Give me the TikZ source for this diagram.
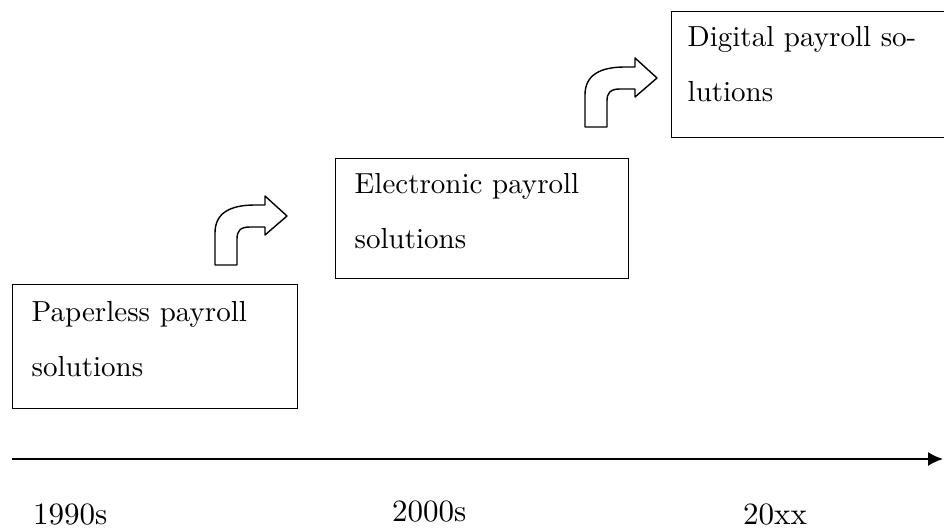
\documentclass[tikz,border=0pt]{standalone}
\usepackage{fontspec}
\setmainfont{lmroman10-regular.otf}
\usetikzlibrary{arrows.meta}

\tikzset{
	bentarrow/.pic={
		\draw[line width=1.4pt, line join=round] (0,0) -- (0,-32) .. controls (0,-52) and (15,-60) .. (40,-60) -- (50,-60) -- (50,-69) -- (72,-49) -- (50,-30) -- (50,-38) -- (35,-38) .. controls (25,-38) and (22,-34) .. (22,-26) -- (22,0) -- cycle;
	}
}

\begin{document}
\begin{tikzpicture}[x=1pt, y=-1pt, box/.style={draw, line width=1.4pt, anchor=north west, inner xsep=19pt, inner ysep=0pt, text depth=70pt, align=left, font=\fontsize{29}{55}\selectfont}, year/.style={anchor=base west, inner sep=0pt, font=\fontsize{31}{31}\selectfont}]
			\useasboundingbox (0,0) rectangle (944,529);
			\node[box, text width=247pt, minimum height=124pt](paperless) at (12, 284) {Paperless payroll\\solutions};
			\node[box, text width=255pt, minimum height=120pt](electronic) at (335, 158) {Electronic payroll\\solutions};
			\node[box, text width=262pt, minimum height=126pt, inner xsep=16pt, text depth=76pt](digital) at (671, 11) {Digital payroll so-\\lutions};
			\pic at (215, 265) {bentarrow};
			\pic at (585, 127) {bentarrow};
			\coordinate(tstart) at (12, 459);
			\coordinate(tend) at (943, 459);
			\draw[line width=1.8pt, -{Latex[length=15pt, width=14pt]}] (tstart) -- (tend);
			\node[year](y1990) at (33, 524) {1990s};
			\node[year](y2000) at (392, 521) {2000s};
			\node[year](y20xx) at (743, 524) {20xx};
		\end{tikzpicture}
\end{document}
